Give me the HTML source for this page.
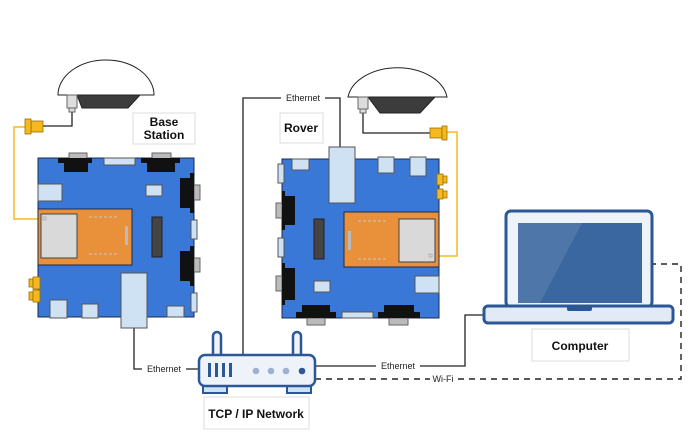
<!DOCTYPE html>
<html><head><meta charset="utf-8"><style>
html,body{margin:0;padding:0;background:#fff;}
svg{display:block;}
text{font-family:"Liberation Sans",sans-serif;}
</style></head><body>
<svg width="690" height="434" viewBox="0 0 690 434" xmlns="http://www.w3.org/2000/svg">
<defs>
<g id="vga"></g>
</defs>
<!-- ===== Connectors ===== -->
<g fill="none" stroke="#222" stroke-width="1.3">
  <polyline points="134,328 134,369 198,369"/>
  <polyline points="243,354 243,98 340,98 340,147"/>
  <polyline points="315,366 465,366 465,315 484,315"/>
  <polyline points="72,112 72,126 43,126"/>
  <polyline points="363,112 363,133 430,133"/>
</g>
<g fill="none" stroke="#222" stroke-width="1.4" stroke-dasharray="6,5">
  <polyline points="315,379 681,379 681,264 653,264"/>
</g>
<g fill="none" stroke="#f5b820" stroke-width="1.5">
  <polyline points="25,127 14,127 14,219 38,219"/>
  <polyline points="447,132 457,132 457,256 439,256"/>
</g>
<!-- connector labels -->
<g font-size="9" fill="#222" text-anchor="middle">
  <rect x="142" y="363" width="44" height="11" fill="#fff"/>
  <text x="164" y="372">Ethernet</text>
  <rect x="281" y="92" width="44" height="11" fill="#fff"/>
  <text x="303" y="101">Ethernet</text>
  <rect x="376" y="360" width="44" height="11" fill="#fff"/>
  <text x="398" y="369">Ethernet</text>
  <rect x="430" y="373" width="26" height="11" fill="#fff"/>
  <text x="443" y="382">Wi-Fi</text>
</g>

<!-- ===== Base station antenna ===== -->
<path d="M58,95 A48,35 0 0 1 154,95 Z" fill="#fff" stroke="#222" stroke-width="1"/>
<polygon points="77,95 140,95 128,108 82,108" fill="#3c3c3c" stroke="#222"/>
<rect x="67" y="95" width="10" height="13" fill="#ddd" stroke="#666"/>
<rect x="69" y="108" width="6" height="4" fill="#ddd" stroke="#666"/>
<rect x="31" y="121" width="12" height="11" fill="#f5b820" stroke="#9a7000" stroke-width="0.8"/>
<rect x="25" y="119" width="6" height="15" fill="#f5b820" stroke="#9a7000" stroke-width="0.8"/>

<!-- ===== Base board ===== -->
<rect x="38" y="158" width="156" height="159" fill="#3a78d8" stroke="#1b2a4a" stroke-width="1"/>
<rect x="69" y="153" width="18" height="6" fill="#bbb" stroke="#666"/>
<polygon points="58,158 92,158 92,163 88,163 88,172 64,172 64,163 58,163" fill="#111"/>
<rect x="104" y="158" width="31" height="7" fill="#cfe2f3" stroke="#555"/>
<rect x="152" y="153" width="19" height="6" fill="#bbb" stroke="#666"/>
<polygon points="141,158 180,158 180,163 175,163 175,172 147,172 147,163 141,163" fill="#111"/>
<rect x="38" y="184" width="24" height="17" fill="#cfe2f3" stroke="#555"/>
<rect x="146" y="185" width="16" height="11" fill="#cfe2f3" stroke="#555"/>
<rect x="194" y="185" width="6" height="15" fill="#bbb" stroke="#666"/>
<polygon points="180,178 190,178 190,173 194,173 194,213 190,213 190,208 180,208" fill="#111"/>
<rect x="191" y="220" width="6" height="19" fill="#cfe2f3" stroke="#555"/>
<rect x="194" y="258" width="6" height="14" fill="#bbb" stroke="#666"/>
<polygon points="180,251 190,251 190,246 194,246 194,286 190,286 190,281 180,281" fill="#111"/>
<rect x="191" y="293" width="6" height="19" fill="#cfe2f3" stroke="#555"/>
<rect x="38" y="209" width="94" height="56" fill="#e8913a" stroke="#1b2a4a" stroke-width="1"/>
<rect x="41" y="214" width="36" height="44" fill="#d9d9d9" stroke="#444"/>
<rect x="43" y="217" width="3" height="3" fill="none" stroke="#999" stroke-width="0.6"/>
<g stroke="#c8c8c8" stroke-width="1"><line x1="89" y1="217" x2="117" y2="217" stroke-dasharray="3,2"/><line x1="89" y1="254" x2="117" y2="254" stroke-dasharray="3,2"/></g>
<rect x="125" y="226" width="3" height="19" fill="#bbb"/>
<rect x="152" y="217" width="10" height="40" fill="#444" stroke="#222"/>
<rect x="121" y="273" width="26" height="55" fill="#cfe2f3" stroke="#555"/>
<rect x="50" y="300" width="17" height="18" fill="#cfe2f3" stroke="#555"/>
<rect x="82" y="304" width="16" height="14" fill="#cfe2f3" stroke="#555"/>
<rect x="167" y="306" width="17" height="11" fill="#cfe2f3" stroke="#555"/>
<g fill="#f5b820" stroke="#9a7000" stroke-width="0.8">
<rect x="29" y="279" width="4" height="8"/><rect x="33" y="277" width="7" height="12"/>
<rect x="29" y="292" width="4" height="8"/><rect x="33" y="290" width="7" height="12"/>
</g>
<rect x="133" y="113" width="62" height="31" fill="#fff" stroke="#ddd"/>
<text x="164" y="126" font-size="12" font-weight="bold" text-anchor="middle" fill="#111">Base</text>
<text x="164" y="139" font-size="12" font-weight="bold" text-anchor="middle" fill="#111">Station</text>

<!-- ===== Rover antenna ===== -->
<path d="M348,97 A50,34 0 0 1 447,97 Z" fill="#fff" stroke="#222" stroke-width="1"/>
<polygon points="368,97 435,97 420,113 380,113" fill="#3c3c3c" stroke="#222"/>
<rect x="358" y="97" width="10" height="12" fill="#ddd" stroke="#666"/>
<rect x="360" y="109" width="6" height="4" fill="#ddd" stroke="#666"/>
<rect x="430" y="128" width="12" height="10" fill="#f5b820" stroke="#9a7000" stroke-width="0.8"/>
<rect x="442" y="126" width="5" height="14" fill="#f5b820" stroke="#9a7000" stroke-width="0.8"/>

<!-- ===== Rover board ===== -->
<rect x="282" y="159" width="157" height="159" fill="#3a78d8" stroke="#1b2a4a" stroke-width="1"/>
<rect x="329" y="147" width="26" height="56" fill="#cfe2f3" stroke="#555"/>
<rect x="292" y="159" width="17" height="11" fill="#cfe2f3" stroke="#555"/>
<rect x="378" y="157" width="16" height="16" fill="#cfe2f3" stroke="#555"/>
<rect x="410" y="157" width="16" height="19" fill="#cfe2f3" stroke="#555"/>
<g fill="#f5b820" stroke="#9a7000" stroke-width="0.8">
<rect x="437" y="174" width="6" height="11"/><rect x="443" y="176" width="4" height="7"/>
<rect x="437" y="189" width="6" height="10"/><rect x="443" y="191" width="4" height="7"/>
</g>
<rect x="278" y="164" width="6" height="19" fill="#cfe2f3" stroke="#555"/>
<rect x="276" y="203" width="6" height="15" fill="#bbb" stroke="#666"/>
<polygon points="282,191 285,191 285,196 295,196 295,225 285,225 285,230 282,230" fill="#111"/>
<rect x="278" y="238" width="6" height="19" fill="#cfe2f3" stroke="#555"/>
<rect x="276" y="276" width="6" height="15" fill="#bbb" stroke="#666"/>
<polygon points="282,263 285,263 285,268 295,268 295,300 285,300 285,305 282,305" fill="#111"/>
<rect x="314" y="219" width="10" height="40" fill="#444" stroke="#222"/>
<rect x="344" y="212" width="95" height="55" fill="#e8913a" stroke="#1b2a4a" stroke-width="1"/>
<rect x="399" y="219" width="36" height="43" fill="#d9d9d9" stroke="#444"/>
<rect x="429" y="254" width="3" height="3" fill="none" stroke="#999" stroke-width="0.6"/>
<g stroke="#c8c8c8" stroke-width="1"><line x1="358" y1="221" x2="386" y2="221" stroke-dasharray="3,2"/><line x1="358" y1="259" x2="386" y2="259" stroke-dasharray="3,2"/></g>
<rect x="348" y="231" width="3" height="19" fill="#bbb"/>
<rect x="314" y="281" width="16" height="11" fill="#cfe2f3" stroke="#555"/>
<rect x="415" y="276" width="24" height="17" fill="#cfe2f3" stroke="#555"/>
<rect x="307" y="318" width="18" height="7" fill="#bbb" stroke="#666"/>
<polygon points="302,305 330,305 330,312 336,312 336,318 296,318 296,312 302,312" fill="#111"/>
<rect x="342" y="312" width="31" height="6" fill="#cfe2f3" stroke="#555"/>
<rect x="389" y="318" width="19" height="7" fill="#bbb" stroke="#666"/>
<polygon points="384,305 414,305 414,312 420,312 420,318 378,318 378,312 384,312" fill="#111"/>
<rect x="280" y="113" width="43" height="30" fill="#fff" stroke="#ddd"/>
<text x="301" y="132" font-size="12" font-weight="bold" text-anchor="middle" fill="#111">Rover</text>

<!-- ===== Router ===== -->
<g stroke="#2b5797" stroke-width="2.5" fill="#eef3fa">
  <rect x="213" y="332" width="8" height="26" rx="4"/>
  <rect x="293" y="332" width="8" height="26" rx="4"/>
  <rect x="203" y="386" width="24" height="7" stroke-width="2" fill="#cfe2f3"/>
  <rect x="287" y="386" width="24" height="7" stroke-width="2" fill="#cfe2f3"/>
  <rect x="199" y="355" width="116" height="31" rx="6"/>
</g>
<g fill="#2b5797">
  <rect x="208" y="363" width="3" height="14"/><rect x="215" y="363" width="3" height="14"/>
  <rect x="222" y="363" width="3" height="14"/><rect x="229" y="363" width="3" height="14"/>
  <circle cx="302" cy="371" r="3.3"/>
</g>
<g fill="#9db2d3"><circle cx="256" cy="371" r="3.3"/><circle cx="271" cy="371" r="3.3"/><circle cx="286" cy="371" r="3.3"/></g>
<rect x="204" y="397" width="105" height="32" fill="#fff" stroke="#ddd"/>
<text x="256" y="418" font-size="12" font-weight="bold" text-anchor="middle" fill="#111">TCP / IP Network</text>

<!-- ===== Laptop ===== -->
<rect x="506" y="211" width="146" height="96" rx="5" fill="#eef3fa" stroke="#2b5797" stroke-width="3"/>
<rect x="518" y="223" width="124" height="80" fill="#3a67a0"/>
<polygon points="518,223 582,223 540,303 518,303" fill="#ffffff" opacity="0.1"/>
<rect x="484" y="306" width="189" height="17" rx="4" fill="#e2eaf6" stroke="#2b5797" stroke-width="3"/>
<rect x="567" y="306" width="25" height="5" rx="2" fill="#2b5797"/>
<rect x="532" y="329" width="97" height="32" fill="#fff" stroke="#ddd"/>
<text x="580" y="350" font-size="12" font-weight="bold" text-anchor="middle" fill="#111">Computer</text>
</svg>
</body></html>
